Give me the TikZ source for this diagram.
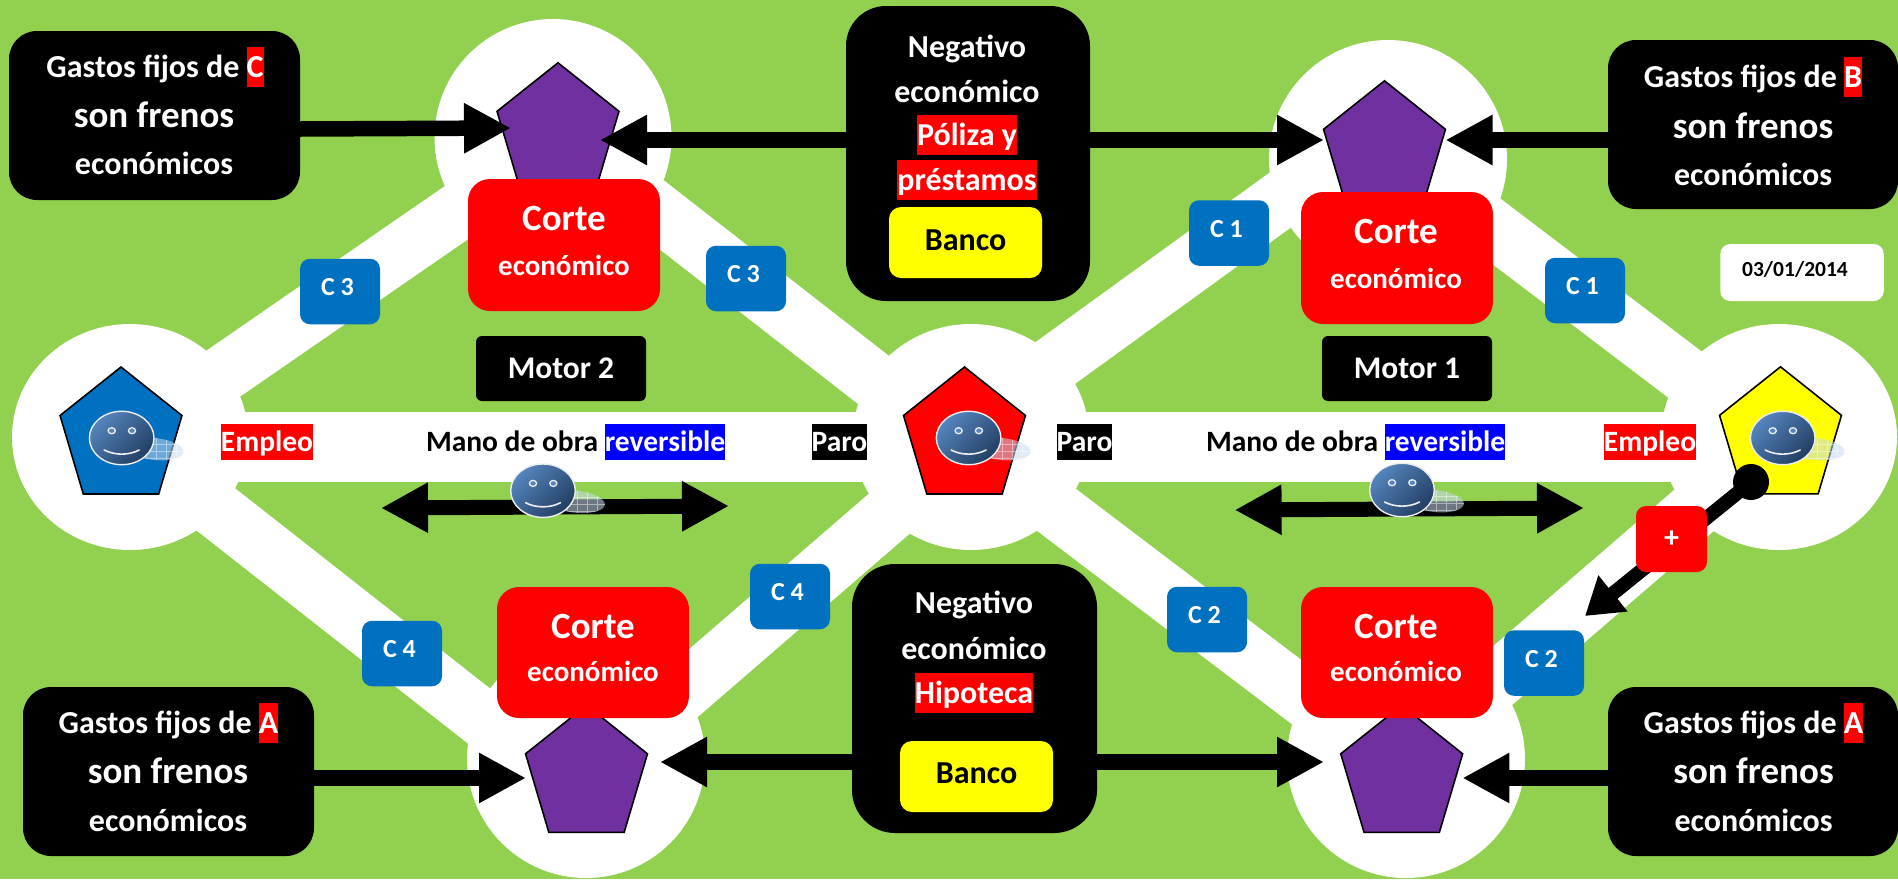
\documentclass[tikz,border=0pt]{standalone}
\usepackage{fontspec}
\setmainfont{Carlito}
\usetikzlibrary{arrows.meta,shapes.geometric}
\definecolor{bggreen}{HTML}{92D050}
\definecolor{cblue}{HTML}{0070C0}
\definecolor{cpurple}{HTML}{7030A0}
\definecolor{cyellow}{HTML}{FFFF00}
\definecolor{facelight}{HTML}{5585BE}
\definecolor{facedark}{HTML}{223E62}
\definecolor{shadowblue}{HTML}{C6D9F0}
\setlength{\fboxsep}{0pt}
\newcommand{\hlA}[2]{\colorbox{#1}{\rule[-10pt]{0pt}{40pt}#2}}
\newcommand{\hlB}[2]{\colorbox{#1}{\rule[-9pt]{0pt}{36pt}#2}}
\tikzset{
  whiteell/.style={ellipse,fill=white,inner sep=0pt,outer sep=0pt},
  band/.style={white,line width=57pt,line cap=butt},
  hband/.style={white,line width=70pt,line cap=butt},
  penta/.style={regular polygon,regular polygon sides=5,draw=black,line width=1.6pt,
    minimum size=140.4pt,inner sep=0pt,outer sep=0pt,xscale=.913,transform shape},
  fat/.style={black,line width=15.5pt,-{Triangle[length=47pt,width=47pt]}},
  fatboth/.style={black,line width=15pt,{Triangle[length=47pt,width=47pt]}-{Triangle[length=47pt,width=47pt]}},
  blk/.style={fill=black,rounded corners=#1,inner sep=0pt,outer sep=0pt},
  redbox/.style={fill=red,rounded corners=22pt,minimum width=192pt,minimum height=132pt,inner sep=0pt,outer sep=0pt},
  clab/.style={fill=cblue,rounded corners=10pt,minimum width=80pt,minimum height=65.5pt,inner sep=0pt,outer sep=0pt,
    text=white,text height=16pt,text depth=8pt,font=\bfseries\fontsize{26}{26}\selectfont},
  motor/.style={fill=black,rounded corners=6pt,minimum width=170pt,minimum height=65pt,inner sep=0pt,outer sep=0pt,
    text=white,font=\bfseries\fontsize{31.5}{31.5}\selectfont},
  bank/.style={fill=cyellow,rounded corners=12pt,inner sep=0pt,outer sep=0pt,text=black,
    text height=20pt,font=\bfseries\fontsize{32}{32}\selectfont},
  lbl/.style={anchor=base,inner sep=0pt,outer sep=0pt,text=white,font=\bfseries\fontsize{#1}{#1}\selectfont},
  lblk/.style={lbl=#1,text=black},
  smiley/.pic={
    \begin{scope}
      \clip[rotate around={-6:(33,11)}] (33,11) ellipse (29 and 11);
      \fill[shadowblue,opacity=.55] (0,-5) rectangle (70,30);
      \draw[white,opacity=.45,line width=.4pt] (24,-5)--(24,30) (34,-5)--(34,30) (44,-5)--(44,30) (54,-5)--(54,30)
        (0,6)--(70,6) (0,13)--(70,13) (0,20)--(70,20);
    \end{scope}
    \shade[top color=facelight,bottom color=facedark,shading angle=45,draw=white!93!black,line width=1.4pt]
      (0,0) ellipse (32.3 and 26.7);
    \draw[white!93!black,line width=1.3pt,fill=facelight] (-10,-7.3) ellipse (3.6 and 3);
    \draw[white!93!black,line width=1.3pt,fill=facelight] (10.3,-7.3) ellipse (3.6 and 3);
    \draw[white!93!black,line width=1.6pt,line cap=round] (-17.5,12) .. controls (-7,17.5) and (7,17.5) .. (17.5,12);
  }
}
\begin{document}
\begin{tikzpicture}[x=1pt,y=-1pt]
\path[use as bounding box,fill=bggreen] (0,0) rectangle (1898,879);

% band end points
\coordinate (hL) at (130,447); \coordinate (hC) at (971,447); \coordinate (hR) at (1779,447);
\coordinate (lu) at (130,438); \coordinate (tlu) at (553,146);
\coordinate (cu) at (971,456); \coordinate (tlr) at (553,130);
\coordinate (cr) at (971,424); \coordinate (trl) at (1388,122);
\coordinate (ru) at (1779,446); \coordinate (trr) at (1388,149);
\coordinate (ld) at (130,442); \coordinate (bll) at (586,800);
\coordinate (cdl) at (971,443); \coordinate (blr) at (586,776);
\coordinate (cdr) at (971,445); \coordinate (brl) at (1406,775);
\coordinate (rd) at (1779,437); \coordinate (brr) at (1406,759);
\draw[hband] (hL)--(hC); \draw[hband] (hC)--(hR);
\draw[band] (lu)--(tlu); \draw[band] (cu)--(tlr); \draw[band] (cr)--(trl); \draw[band] (ru)--(trr);
\draw[band] (ld)--(bll); \draw[band] (cdl)--(blr); \draw[band] (cdr)--(brl); \draw[band] (rd)--(brr);

% white discs
\node[whiteell,minimum width=236pt,minimum height=226pt] (eL) at (130,437) {};
\node[whiteell,minimum width=236pt,minimum height=226pt] (eC) at (971,437) {};
\node[whiteell,minimum width=236pt,minimum height=226pt] (eR) at (1779,437) {};
\node[whiteell,minimum width=237pt,minimum height=237pt] (eTL) at (553,137.5) {};
\node[whiteell,minimum width=238pt,minimum height=238pt] (eTR) at (1388,159) {};
\node[whiteell,minimum width=238pt,minimum height=238pt] (eBL) at (586,759) {};
\node[whiteell,minimum width=238pt,minimum height=238pt] (eBR) at (1406,759) {};

% pentagons
\node[penta,fill=cblue] (pL) at (121,437.2) {};
\node[penta,fill=red] (pC) at (964.5,437.2) {};
\node[penta,fill=cyellow] (pR) at (1780.5,437) {};
\node[penta,fill=cpurple] (pTL) at (558,133) {};
\node[penta,fill=cpurple] (pTR) at (1384.5,151) {};
\node[penta,fill=cpurple] (pBL) at (586.5,775.5) {};
\node[penta,fill=cpurple] (pBR) at (1401.7,775.5) {};

\pic (s1) at (121.7,438) {smiley};
\pic (s2) at (968.6,438) {smiley};
\pic (s3) at (1782.7,438) {smiley};

% black boxes
\node[blk=28pt,minimum width=291pt,minimum height=169pt] (boxC) at (154.5,115.5) {};
\node[blk=28pt,minimum width=290pt,minimum height=169pt] (boxB) at (1753,124.5) {};
\node[blk=28pt,minimum width=291pt,minimum height=169pt] (boxAL) at (168.5,771.5) {};
\node[blk=28pt,minimum width=290pt,minimum height=169pt] (boxAR) at (1753,771.5) {};
\node[blk=40pt,minimum width=244pt,minimum height=295pt] (negT) at (968,153.5) {};
\node[blk=43pt,minimum width=245pt,minimum height=269pt] (negB) at (974.5,698.5) {};

% free arrow ends
\coordinate (tipC) at (511,128);
\coordinate (tipNL) at (600,140);
\coordinate (tipNR) at (1324,140);
\coordinate (tipB) at (1445.5,140);
\coordinate (tipAL) at (526,778);
\coordinate (tipBL) at (660,762);
\coordinate (tipBR) at (1324,762);
\coordinate (tipAR) at (1462.4,778);
\coordinate (dL1) at (381,508); \coordinate (dL2) at (729,506);
\coordinate (dR1) at (1234.6,510); \coordinate (dR2) at (1584,508);
\coordinate (tipP) at (1585,616);

\draw[fat] (boxC.east |- 0,129) -- (tipC);
\draw[fat] (negT.west |- tipNL) -- (tipNL);
\draw[fat] (negT.east |- tipNR) -- (tipNR);
\draw[fat] (boxB.west |- tipB) -- (tipB);
\draw[fat] (boxAL.east |- tipAL) -- (tipAL);
\draw[fat] (negB.west |- tipBL) -- (tipBL);
\draw[fat] (negB.east |- tipBR) -- (tipBR);
\draw[fat] (boxAR.west |- tipAR) -- (tipAR);

\draw[fatboth] (dL1) -- (dL2);
\draw[fatboth] (dR1) -- (dR2);
\pic (s4) at (543,490.7) {smiley};
\pic (s5) at (1402,490) {smiley};

% plus connector
\node[circle,fill=black,minimum size=36pt,inner sep=0pt,outer sep=0pt] (dot) at (1751,482) {};
\draw[black,line width=14pt,-{Triangle[length=36pt,width=44pt]}] (dot.center) -- (tipP);
\node[fill=red,rounded corners=10pt,minimum width=71pt,minimum height=66pt,inner sep=0pt,outer sep=0pt,
  text=white,font=\bfseries\fontsize{30}{30}\selectfont] (plus) at (1671.5,539) {+};

% yellow boxes
\node[bank,text depth=5pt,minimum width=153pt,minimum height=71pt] (bankT) at (965.5,242.5) {Banco};
\node[bank,text depth=7pt,minimum width=153pt,minimum height=71pt] (bankB) at (976.5,776.5) {Banco};

% red boxes
\node[redbox] (rTL) at (564,245) {};
\node[redbox] (rTR) at (1397,258) {};
\node[redbox,minimum height=131pt] (rBL) at (593,652.5) {};
\node[redbox,minimum height=131pt] (rBR) at (1397,652.5) {};

% motors
\node[motor] (m2) at (561,368.5) {Motor 2};
\node[motor] (m1) at (1407,368.5) {Motor 1};

% C labels
\node[clab] (c3a) at (340,291.5) {C 3\kern5pt};
\node[clab] (c3b) at (746,278.5) {C 3\kern5pt};
\node[clab] (c1a) at (1229,233) {C 1\kern5pt};
\node[clab] (c1b) at (1585,290.5) {C 1\kern5pt};
\node[clab] (c4a) at (402,653.5) {C 4\kern5pt};
\node[clab] (c4b) at (790,596.5) {C 4\kern5pt};
\node[clab] (c2a) at (1207,619.5) {C 2\kern5pt};
\node[clab] (c2b) at (1544,663) {C 2\kern5pt};

% date
\node[fill=white,rounded corners=10pt,minimum width=163.5pt,minimum height=57pt,inner sep=0pt,outer sep=0pt,
  text=black,text height=14pt,text depth=7pt,font=\bfseries\fontsize{21.5}{21.5}\selectfont] (date) at (1802,272.5) {03/01/2014\kern14pt};

% text of box C
\node[lbl=32] (tC1) at (155,77) {Gastos fijos de \hlA{red}{C}};
\node[lbl=37] (tC2) at (154,127) {son frenos};
\node[lbl=32] (tC3) at (154,174) {económicos};
% text of box B
\node[lbl=32] (tB1) at (1753,87) {Gastos fijos de \hlA{red}{B}};
\node[lbl=37] (tB2) at (1753,138) {son frenos};
\node[lbl=32] (tB3) at (1753,185) {económicos};
% text of box A left
\node[lbl=32] (tA1) at (168.5,733) {Gastos fijos de \hlA{red}{A}};
\node[lbl=37] (tA2) at (168,783) {son frenos};
\node[lbl=32] (tA3) at (168,831) {económicos};
% text of box A right
\node[lbl=32] (tD1) at (1753.5,733) {Gastos fijos de \hlA{red}{A}};
\node[lbl=37] (tD2) at (1753.5,783) {son frenos};
\node[lbl=32] (tD3) at (1753.5,831) {económicos};
% negative boxes
\node[lbl=32] (nT1) at (967,57) {Negativo};
\node[lbl=32] (nT2) at (967,102) {económico};
\node[lbl=32] (nT3) at (967,145) {\hlA{red}{Póliza y}};
\node[lbl=32] (nT4) at (967,190) {\hlA{red}{préstamos}};
\node[lbl=32] (nB1) at (974,613) {Negativo};
\node[lbl=32] (nB2) at (974,659) {económico};
\node[lbl=32] (nB3) at (974,703) {\hlA{red}{Hipoteca}};
% corte
\node[lbl=37] (k1) at (564,230) {Corte};
\node[lbl=29] (k2) at (564,275) {económico};
\node[lbl=37] (k3) at (1396,243) {Corte};
\node[lbl=29] (k4) at (1396,288) {económico};
\node[lbl=37] (k5) at (593,638) {Corte};
\node[lbl=29] (k6) at (593,681) {económico};
\node[lbl=37] (k7) at (1396,638) {Corte};
\node[lbl=29] (k8) at (1396,681) {económico};
% middle band labels
\node[lbl=29.5] (e1) at (267,451) {\hlB{red}{Empleo}};
\node[lbl=29.5] (e2) at (1650,451) {\hlB{red}{Empleo}};
\node[lbl=29.5] (p1) at (839.5,451) {\hlB{black}{Paro}};
\node[lbl=29.5] (p2) at (1084.5,451) {\hlB{black}{Paro}};
\node[lblk=29.5,anchor=base west] (w1) at (426,451) {Mano de obra \hlB{blue}{\textcolor{white}{reversible}}};
\node[lblk=29.5,anchor=base west] (w2) at (1206,451) {Mano de obra \hlB{blue}{\textcolor{white}{reversible}}};
\end{tikzpicture}
\end{document}
